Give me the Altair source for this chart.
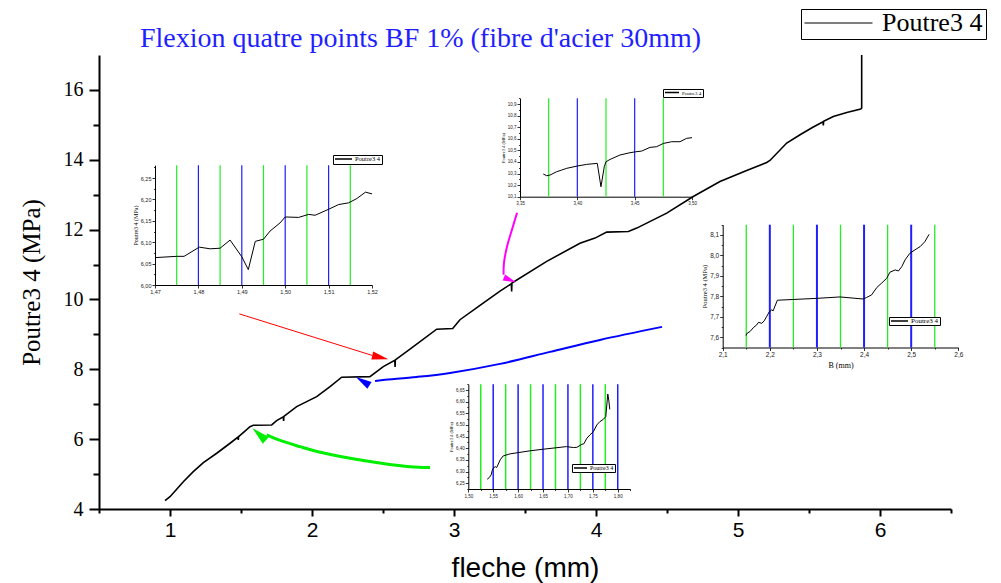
import altair as alt
import pandas as pd

SERIE = "Poutre3 4"

# Main curve: deflection (mm) against stress (MPa)
fleche = [0.965, 1.0, 1.094, 1.164, 1.235, 1.329, 1.423, 1.479, 1.481, 1.483,
          1.516, 1.563, 1.587, 1.716, 1.751, 1.798, 1.800, 1.802, 1.892, 2.033,
          2.127, 2.209, 2.408, 2.502, 2.583, 2.585, 2.587, 2.69, 2.878, 2.991,
          3.042, 3.183, 3.324, 3.404, 3.406, 3.408, 3.653, 3.887, 3.993, 4.075,
          4.228, 4.287, 4.498, 4.685, 4.873, 5.061, 5.202, 5.225, 5.343, 5.437,
          5.530, 5.599, 5.601, 5.603, 5.671, 5.766, 5.864, 5.871, 5.871]
contrainte = [4.238, 4.352, 4.782, 5.069, 5.327, 5.596, 5.883, 6.06, 5.98, 6.07,
              6.186, 6.358, 6.398, 6.407, 6.53, 6.64, 6.52, 6.65, 6.931, 7.218,
              7.504, 7.774, 7.791, 8.078, 8.26, 8.07, 8.27, 8.576, 9.149, 9.166,
              9.42, 9.83, 10.24, 10.45, 10.23, 10.47, 11.09, 11.61, 11.757, 11.928,
              11.948, 12.043, 12.473, 12.948, 13.378, 13.693, 13.923, 13.98, 14.479, 14.716,
              14.937, 15.09, 14.98, 15.1, 15.241, 15.355, 15.453, 15.481, 17.0]

# Zoom A (1.47 - 1.52 mm)
a_x = [1.47, 1.475, 1.4767, 1.4802, 1.4827, 1.485, 1.4873, 1.49, 1.4915, 1.4931,
       1.495, 1.4965, 1.4988, 1.5, 1.5031, 1.5054, 1.5069, 1.51, 1.5123, 1.5146,
       1.5165, 1.5185, 1.52]
a_y = [6.064, 6.067, 6.067, 6.0885, 6.0846, 6.086, 6.105, 6.066, 6.036, 6.102,
       6.107, 6.126, 6.145, 6.159, 6.158, 6.165, 6.163, 6.177, 6.188, 6.192,
       6.202, 6.217, 6.213]
a_green = [1.475, 1.485, 1.495, 1.505, 1.515]
a_blue = [1.48, 1.49, 1.50, 1.51]

# Zoom B (3.35 - 3.50 mm)
b_x = [3.3703, 3.3733, 3.3762, 3.382, 3.3863, 3.3907, 3.40, 3.4081, 3.4174, 3.4206,
       3.4235, 3.425, 3.4285, 3.4372, 3.4459, 3.4509, 3.4561, 3.4634, 3.4692, 3.475,
       3.4823, 3.4895, 3.4953, 3.50]
b_y = [10.296, 10.281, 10.287, 10.316, 10.33, 10.345, 10.365, 10.379, 10.388, 10.186,
       10.359, 10.402, 10.422, 10.46, 10.48, 10.488, 10.494, 10.526, 10.532, 10.56,
       10.575, 10.575, 10.604, 10.61]
b_green = [3.375, 3.425, 3.475]
b_blue = [3.40, 3.45]

# Zoom C (2.1 - 2.6 mm)
c_x = [2.1495, 2.152, 2.158, 2.165, 2.172, 2.176, 2.183, 2.188, 2.193, 2.199,
       2.204, 2.207, 2.216, 2.299, 2.349, 2.398, 2.405, 2.416, 2.427, 2.437,
       2.448, 2.455, 2.466, 2.473, 2.48, 2.487, 2.497, 2.508, 2.519, 2.529, 2.538]
c_y = [7.608, 7.62, 7.628, 7.647, 7.66, 7.673, 7.668, 7.68, 7.70, 7.725,
       7.734, 7.729, 7.781, 7.79, 7.797, 7.787, 7.794, 7.807, 7.843, 7.864,
       7.888, 7.918, 7.929, 7.924, 7.945, 7.978, 8.01, 8.027, 8.043, 8.067, 8.103]
c_green = [2.15, 2.25, 2.35, 2.45, 2.55]
c_blue = [2.2, 2.3, 2.4, 2.5]

# Zoom D (1.50 - 1.825 mm)
d_x = [1.538, 1.542, 1.546, 1.548, 1.550, 1.554, 1.557, 1.564, 1.570, 1.584,
       1.624, 1.651, 1.697, 1.711, 1.718, 1.728, 1.732, 1.738, 1.744, 1.751,
       1.758, 1.764, 1.771, 1.776, 1.780, 1.782, 1.784]
d_y = [6.267, 6.274, 6.286, 6.304, 6.314, 6.321, 6.317, 6.35, 6.367, 6.376,
       6.389, 6.396, 6.407, 6.403, 6.404, 6.417, 6.419, 6.443, 6.457, 6.471,
       6.50, 6.514, 6.524, 6.536, 6.633, 6.607, 6.567]
d_green = [1.525, 1.575, 1.625, 1.675, 1.725, 1.775]
d_blue = [1.55, 1.60, 1.65, 1.70, 1.75, 1.80]

# Annotation arrows, in main-plot coordinates (shaft points, then head position)
red_x = [1.488, 2.424]
red_y = [9.587, 8.398]
red_head = [2.481, 8.344]
blue_x = [4.465, 4.028, 3.676, 3.324, 2.972, 2.739, 2.5, 2.444]
blue_y = [9.215, 8.842, 8.499, 8.155, 7.897, 7.782, 7.696, 7.668]
blue_head = [2.357, 7.66]
green_x = [2.831, 2.690, 2.5, 2.268, 2.035, 1.915, 1.775, 1.681]
green_y = [5.189, 5.212, 5.304, 5.453, 5.648, 5.785, 5.963, 6.120]
green_head = [1.628, 6.14]
magenta_x = [3.444, 3.408, 3.373, 3.352, 3.349]
magenta_y = [12.481, 11.994, 11.507, 11.049, 10.705]
magenta_head = [3.394, 10.562]

W, H = 852, 454
GREEN = "#22ee22"
BLUE = "#1f1fff"
HEAD = "M0,-1L0.5,1L-0.5,1Z"
SERIF = "Liberation Serif"
SANS = "Liberation Sans"


def frange(start, stop, step):
    n = int(round((stop - start) / step))
    return [round(start + k * step, 4) for k in range(n + 1)]


# ---------- main plot ----------
mx_scale = alt.Scale(domain=[0.5, 6.5], zero=False, nice=False)
my_scale = alt.Scale(domain=[4, 17], zero=False, nice=False)
mx_axis = alt.Axis(
    values=frange(0.5, 6.5, 0.5),
    labelExpr="datum.value % 1 == 0 ? format(datum.value, 'd') : ''",
    tickSize={"condition": {"test": "datum.value % 1 == 0", "value": 7}, "value": 4},
    tickWidth=2, domainWidth=2, domainColor="black", tickColor="black",
    labelFont=SANS, labelFontSize=21, labelColor="black", labelPadding=3,
    labelFlush=False, labelOverlap=False,
    title="fleche (mm)", titleFont=SANS, titleFontSize=28, titleFontWeight="normal",
    titleColor="black", titlePadding=14, grid=False)
my_axis = alt.Axis(
    values=list(range(4, 17)),
    labelExpr="datum.value % 2 == 0 ? format(datum.value, 'd') : ''",
    tickSize={"condition": {"test": "datum.value % 2 == 0", "value": 10}, "value": 6},
    tickWidth=2, domainWidth=2, domainColor="black", tickColor="black",
    labelFont=SERIF, labelFontSize=20, labelColor="black", labelPadding=6,
    labelOverlap=False,
    title="Poutre3 4 (MPa)", titleFont=SERIF, titleFontSize=25, titleFontWeight="normal",
    titleColor="black", titleX=-55, titleY=H / 2, grid=False)

main_df = pd.DataFrame({"fleche": fleche, "contrainte": contrainte,
                        "serie": SERIE, "i": range(len(fleche))})
main_line = alt.Chart(main_df).mark_line(strokeWidth=1.6).encode(
    x=alt.X("fleche:Q", scale=mx_scale, axis=mx_axis),
    y=alt.Y("contrainte:Q", scale=my_scale, axis=my_axis),
    order="i:Q",
    color=alt.Color("serie:N", scale=alt.Scale(domain=[SERIE], range=["black"]),
                    legend=alt.Legend(
                        title=None, orient="none", legendX=702, legendY=-46,
                        strokeColor="black", fillColor="white", padding=3,
                        symbolType="stroke", symbolSize=68 * 68, symbolStrokeWidth=1,
                        clipHeight=22, labelFont=SERIF, labelFontSize=26,
                        labelColor="black", labelOffset=9)),
)

main_layers = [main_line]
arrows = [
    (red_x, red_y, red_head, "#ff0000", 1, 103, 272),
    (blue_x, blue_y, blue_head, "#0000ff", 2, 302, 256),
    (green_x, green_y, green_head, "#00ee00", 3, 312, 324),
    (magenta_x, magenta_y, magenta_head, "#ff00ff", 2, 112, 169),
]
for xs, ys, head, col, sw, ang, size in arrows:
    shaft = pd.DataFrame({"fx": xs, "fy": ys, "i": range(len(xs))})
    main_layers.append(
        alt.Chart(shaft).mark_line(color=col, strokeWidth=sw,
                                   interpolate="catmull-rom").encode(
            x=alt.X("fx:Q", scale=mx_scale, axis=mx_axis),
            y=alt.Y("fy:Q", scale=my_scale, axis=my_axis),
            order="i:Q"))
    tip = pd.DataFrame({"fx": [head[0]], "fy": [head[1]]})
    main_layers.append(
        alt.Chart(tip).mark_point(shape=HEAD, filled=True, opacity=1, color=col,
                                  strokeWidth=0, angle=ang, size=size).encode(
            x=alt.X("fx:Q", scale=mx_scale, axis=mx_axis),
            y=alt.Y("fy:Q", scale=my_scale, axis=my_axis)))

main_chart = alt.layer(*main_layers)


# ---------- inset charts ----------
def inset_axis(orient, offset, values, major, fmt, size, title=None, title_size=6,
               title_pad=2):
    test = f"round(datum.value * 1000) % {major} == 0"
    return alt.Axis(
        orient=orient, offset=offset, values=values,
        labelExpr=f"{test} ? replace(format(datum.value, '{fmt}'), '.', ',') : ''",
        tickSize={"condition": {"test": test, "value": 3}, "value": 1.5},
        tickWidth=0.8, domainWidth=1, domainColor="black", tickColor="black",
        labelFont=SANS, labelFontSize=size, labelColor="#222222", labelPadding=1,
        labelFlush=False, labelOverlap=False, labelBound=False,
        title=title, titleFont=SERIF, titleFontSize=title_size,
        titleFontWeight="normal", titleColor="black", titlePadding=title_pad,
        grid=False)


def inset(xs, ys, greens, blues, xdom, xrng, ydom, yrng, xaxis, yaxis, legend,
          gw, bw):
    xsc = alt.Scale(domain=xdom, range=xrng, zero=False, nice=False)
    ysc = alt.Scale(domain=ydom, range=yrng, zero=False, nice=False)
    layers = []
    for vals, col, w in ((greens, GREEN, gw), (blues, BLUE, bw)):
        layers.append(
            alt.Chart(pd.DataFrame({"x": vals})).mark_rule(color=col, strokeWidth=w).encode(
                x=alt.X("x:Q", scale=xsc, axis=xaxis),
                y=alt.Y(datum=ydom[0], scale=ysc, axis=yaxis),
                y2=alt.Y2(datum=ydom[1])))
    df = pd.DataFrame({"x": xs, "y": ys, "serie": SERIE, "i": range(len(xs))})
    layers.append(
        alt.Chart(df).mark_line(strokeWidth=1).encode(
            x=alt.X("x:Q", scale=xsc, axis=xaxis),
            y=alt.Y("y:Q", scale=ysc, axis=yaxis),
            order="i:Q",
            color=alt.Color("serie:N", scale=alt.Scale(domain=[SERIE], range=["black"]),
                            legend=legend)))
    return alt.layer(*layers)


def small_legend(lx, ly, sym, font, clip):
    return alt.Legend(title=None, orient="none", legendX=lx, legendY=ly,
                      strokeColor="black", fillColor="white", padding=1,
                      symbolType="stroke", symbolSize=sym * sym, symbolStrokeWidth=1.5,
                      clipHeight=clip, labelFont=SERIF, labelFontSize=font,
                      labelColor="black", labelOffset=2)


inset_a = inset(
    a_x, a_y, a_green, a_blue, [1.47, 1.52], [56, 273], [6.0, 6.28], [230, 110.2],
    inset_axis("bottom", 230 - H, frange(1.47, 1.52, 0.01), 10, ".2f", 5.5),
    inset_axis("left", -56, frange(6.0, 6.275, 0.025), 50, ".2f", 5.5,
               title="Poutre3 4 (MPa)", title_size=6),
    small_legend(234, 100, 17, 6.5, 6), 1.2, 1.2)

inset_b = inset(
    b_x, b_y, b_green, b_blue, [3.35, 3.50], [421, 593], [10.1, 10.95], [141.7, 43.3],
    inset_axis("bottom", 141.7 - H, frange(3.35, 3.50, 0.05), 50, ".2f", 4.5),
    inset_axis("left", -421, frange(10.1, 10.95, 0.05), 100, ".1f", 4.5,
               title="Poutre3 4 (MPa)", title_size=4.5),
    small_legend(564, 34, 14, 5, 5), 1.2, 1.2)

inset_c = inset(
    c_x, c_y, c_green, c_blue, [2.1, 2.6], [623.7, 859.3], [7.55, 8.15], [292.5, 169.7],
    inset_axis("bottom", 292.5 - H, frange(2.1, 2.6, 0.05), 100, ".1f", 6.5,
               title="B (mm)", title_size=8, title_pad=3),
    inset_axis("left", -623.7, frange(7.55, 8.15, 0.05), 100, ".1f", 6.5,
               title="Poutre3 4 (MPa)", title_size=6.5),
    small_legend(790, 262, 17, 7, 6), 1.3, 2)

inset_d = inset(
    d_x, d_y, d_green, d_blue, [1.50, 1.825], [369.3, 531.2], [6.225, 6.675], [434, 329.2],
    inset_axis("bottom", 434 - H, frange(1.50, 1.825, 0.025), 50, ".2f", 4.5),
    inset_axis("left", -369.3, frange(6.225, 6.675, 0.025), 50, ".2f", 4.5,
               title="Poutre3 4 (MPa)", title_size=4.5),
    small_legend(473, 409, 13, 6, 6), 1.5, 1.5)

chart = alt.layer(main_chart, inset_a, inset_b, inset_c, inset_d).resolve_scale(
    x="independent", y="independent", color="independent"
).resolve_legend(color="independent").properties(
    width=W, height=H,
    padding={"left": 99, "top": 55, "right": 50, "bottom": 74},
    autosize=alt.AutoSizeParams(type="none"),
    title=alt.TitleParams(
        "Flexion quatre points BF 1% (fibre d'acier 30mm)",
        font=SERIF, fontSize=28, fontWeight="normal", color="#1f1fff",
        anchor="start", frame="group", dx=41, dy=46, offset=2),
).configure_view(stroke=None).configure_axis(grid=False)

chart.save("out.html", embed_options={"renderer": "svg", "actions": False})
